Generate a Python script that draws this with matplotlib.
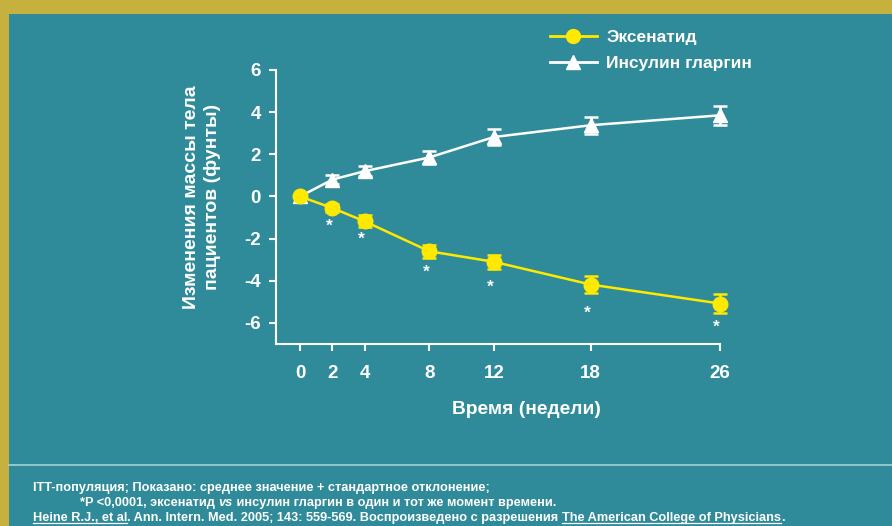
import matplotlib
matplotlib.use('Agg')
import matplotlib.pyplot as plt
from matplotlib.lines import Line2D
from matplotlib.patches import Rectangle

# Data
weeks = [0, 2, 4, 8, 12, 18, 26]
exenatide = [0.0, -0.55, -1.18, -2.6, -3.1, -4.18, -5.08]
exenatide_err = [0.0, 0.2, 0.28, 0.3, 0.33, 0.42, 0.46]
glargine = [0.0, 0.8, 1.2, 1.85, 2.82, 3.38, 3.85]
glargine_err = [0.0, 0.2, 0.25, 0.3, 0.38, 0.4, 0.45]
star_weeks = [2, 4, 8, 12, 18, 26]
star_y = [-1.2, -1.8, -3.4, -4.1, -5.3, -6.0]
y_ticks = [-6, -4, -2, 0, 2, 4, 6]

TEAL = '#2F8B99'
GOLD = '#C6B13F'
YELLOW = '#FFE900'
WHITE = 'white'

plt.rcParams['font.family'] = ['Liberation Sans', 'DejaVu Sans']
plt.rcParams['axes.unicode_minus'] = False

W, H = 892, 526
fig = plt.figure(figsize=(W / 100, H / 100), dpi=100)
fig.patch.set_facecolor(TEAL)

# gold frame on top and left
fig.add_artist(Rectangle((0, 1 - 14 / H), 1, 14 / H, transform=fig.transFigure,
                         facecolor=GOLD, edgecolor='none'))
fig.add_artist(Rectangle((0, 0), 9 / W, 1, transform=fig.transFigure,
                         facecolor=GOLD, edgecolor='none'))
# separator above the footnote
fig.add_artist(Line2D([9 / W, 1], [1 - 465 / H] * 2, transform=fig.transFigure,
                      color='#A9D0D6', lw=1.2))

ax = fig.add_axes([276 / W, 1 - 344 / H, (720 - 276) / W, (344 - 70) / H])
ax.set_facecolor('none')
ax.set_xlim(-1.49, 26)
ax.set_ylim(-7, 6)
for s in ['top', 'right']:
    ax.spines[s].set_visible(False)
for s in ['left', 'bottom']:
    ax.spines[s].set_color(WHITE)
    ax.spines[s].set_linewidth(1.5)
ax.spines['left'].set_bounds(-7, 6)

ax.set_xticks(weeks)
ax.set_yticks(y_ticks)
ax.tick_params(colors=WHITE, width=1.5, length=5, labelsize=13.5)
ax.tick_params(axis='x', pad=10)
ax.tick_params(axis='y', pad=6)
for lab in ax.get_xticklabels() + ax.get_yticklabels():
    lab.set_fontweight('bold')

ax.errorbar(weeks, glargine, yerr=glargine_err, color=WHITE, lw=1.8,
            marker='^', ms=10, mfc=WHITE, mec=WHITE, elinewidth=1.8,
            capsize=5, capthick=1.8, clip_on=False, zorder=3)
ax.errorbar(weeks, exenatide, yerr=exenatide_err, color=YELLOW, lw=1.8,
            marker='o', ms=10.5, mfc=YELLOW, mec=YELLOW, elinewidth=1.8,
            capsize=5, capthick=1.8, clip_on=False, zorder=4)
for x, y in zip(star_weeks, star_y):
    ax.text(x - 0.2, y - 0.22, '*', color=WHITE, fontsize=12.5, fontweight='bold',
            ha='center', va='center')

fig.text(202 / W, 1 - 197 / H, 'Изменения массы тела\nпациентов (фунты)',
         rotation=90, ha='center', va='center', color=WHITE, fontsize=14,
         fontweight='bold', linespacing=1.3)
fig.text(526 / W, 1 - 410 / H, 'Время (недели)', ha='center', va='center',
         color=WHITE, fontsize=13.8, fontweight='bold')

handles = [Line2D([], [], color=YELLOW, lw=2, marker='o', ms=10, mfc=YELLOW, mec=YELLOW),
           Line2D([], [], color=WHITE, lw=2, marker='^', ms=10, mfc=WHITE, mec=WHITE)]
leg = fig.legend(handles, ['Эксенатид', 'Инсулин гларгин'], loc='upper left',
                 bbox_to_anchor=(534 / W, 1 - 14 / H), frameon=False,
                 handlelength=2.75, handletextpad=0.5, labelspacing=0.62,
                 prop={'weight': 'bold', 'size': 12.5})
for t in leg.get_texts():
    t.set_color(WHITE)

# footnote, drawn piece by piece to allow italics and underlines
foot_font = ['Liberation Sans Narrow', 'Liberation Sans', 'DejaVu Sans']
foot_size = 9.15
renderer = fig.canvas.get_renderer()


def draw_segments(x0, y0, segments):
    x = x0
    for txt, style, underline in segments:
        t = fig.text(x / W, 1 - y0 / H, txt, color=WHITE, fontsize=foot_size,
                     family=foot_font, style=style, weight='bold',
                     ha='left', va='baseline')
        bb = t.get_window_extent(renderer)
        if underline:
            fig.add_artist(Line2D([bb.x0 / W, bb.x1 / W],
                                  [(H - y0 - 2) / H] * 2,
                                  transform=fig.transFigure, color=WHITE, lw=0.9))
        x = x + bb.width


draw_segments(33, 491, [('ITT-популяция; Показано: среднее значение + стандартное отклонение;', 'normal', False)])
draw_segments(80, 506, [('*P <0,0001, эксенатид ', 'normal', False),
                        ('vs', 'italic', False),
                        (' инсулин гларгин в один и тот же момент времени.', 'normal', False)])
draw_segments(33, 521, [('Heine R.J., et al', 'normal', True),
                        ('. Ann. Intern. Med. 2005; 143: 559-569. Воспроизведено с разрешения ', 'normal', False),
                        ('The American College of Physicians', 'normal', True),
                        ('.', 'normal', False)])

fig.savefig('out.png', dpi=100, facecolor=fig.get_facecolor())
